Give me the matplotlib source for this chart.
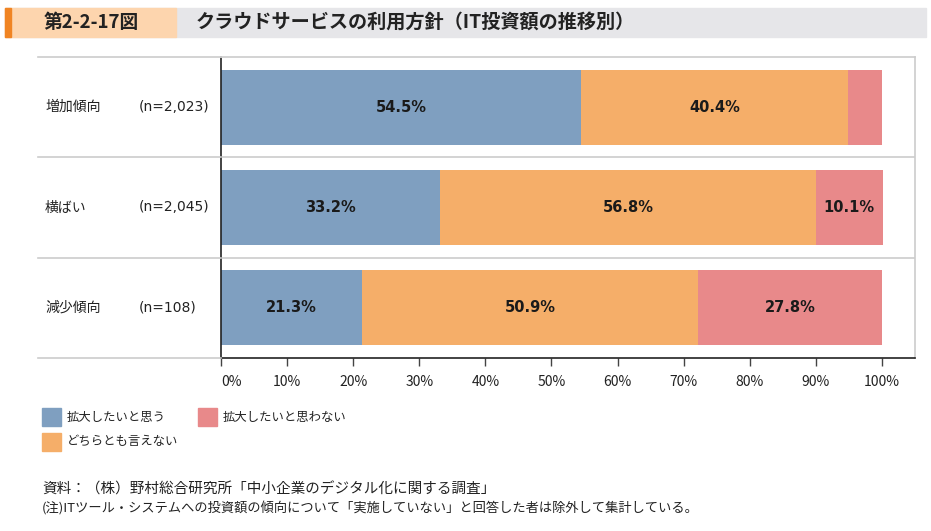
import matplotlib.pyplot as plt
from matplotlib.lines import Line2D
from matplotlib.patches import Rectangle
import numpy as np

plt.rcParams['font.family'] = ['Noto Sans CJK JP', 'DejaVu Sans']
LATIN = ['DejaVu Sans', 'Noto Sans CJK JP']

groups = ['増加傾向', '横ばい', '減少傾向']
counts = ['(n=2,023)', '(n=2,045)', '(n=108)']
series = ['拡大したいと思う', 'どちらとも言えない', '拡大したいと思わない']
expand = [54.5, 33.2, 21.3]
neutral = [40.4, 56.8, 50.9]
no_expand = [5.1, 10.1, 27.8]
show_label = [[True, True, False], [True, True, True], [True, True, True]]
colors = ['#7f9fc0', '#f5ae69', '#e8898a']
ticks = np.arange(0, 101, 10)

W, H = 931, 531
fig = plt.figure(figsize=(W / 100, H / 100), dpi=100)

def fx(px):
    return px / W

def fy(py):
    return 1 - py / H

# title banner
fig.patches.append(Rectangle((fx(5), fy(37)), fx(926) - fx(5), fy(8) - fy(37),
                             transform=fig.transFigure, color='#e6e6e9', zorder=0))
fig.patches.append(Rectangle((fx(5), fy(37)), fx(176) - fx(5), fy(8) - fy(37),
                             transform=fig.transFigure, color='#fdd5ae', zorder=0))
fig.patches.append(Rectangle((fx(5), fy(37)), fx(11) - fx(5), fy(8) - fy(37),
                             transform=fig.transFigure, color='#f08423', zorder=0))
fig.text(fx(44), fy(22.5), '第2-2-17図', fontsize=13.5, fontweight='bold',
         va='center', ha='left', color='#222222')
fig.text(fx(196), fy(22.5), 'クラウドサービスの利用方針（IT投資額の推移別）', fontsize=13.8,
         fontweight='bold', va='center', ha='left', color='#222222')

ax = fig.add_axes([fx(221), fy(358), fx(915) - fx(221), fy(57) - fy(358)])
ax.set_xlim(0, 105)
ax.set_ylim(3, 0)

y = np.arange(len(groups)) + 0.5
left = np.zeros(len(groups))
for k, vals in enumerate([expand, neutral, no_expand]):
    vals = np.array(vals)
    ax.barh(y, vals, left=left, height=0.75, color=colors[k], label=series[k], zorder=2)
    for i in range(len(groups)):
        if show_label[i][k]:
            ax.text(left[i] + vals[i] / 2, y[i], f'{vals[i]:.1f}%', ha='center', va='center',
                    fontsize=10.5, fontweight='bold', color='#1a1a1a', zorder=3, family=LATIN)
    left = left + vals

ax.set_xticks(ticks)
ax.set_xticklabels([f'{t}%' for t in ticks], fontsize=10, color='#222222')
ax.get_xticklabels()[0].set_ha('left')
ax.tick_params(axis='x', length=6, width=1, color='#444444', pad=6)
ax.set_yticks([])
for s in ['top', 'right']:
    ax.spines[s].set_color('#cccccc')
    ax.spines[s].set_linewidth(1.2)
ax.spines['left'].set_color('#222222')
ax.spines['bottom'].set_color('#222222')
ax.spines['left'].set_linewidth(1.2)
ax.spines['bottom'].set_linewidth(1.2)
for yy in [1, 2]:
    ax.axhline(yy, color='#cccccc', lw=1.2, zorder=1)

# left label area lines
for py in [57, 157.3, 257.7, 358]:
    fig.lines.append(Line2D([fx(38), fx(221)], [fy(py), fy(py)], transform=fig.transFigure,
                            color='#cccccc', lw=1.2))

for i in range(len(groups)):
    py = 57 + (i + 0.5) * 100.33
    fig.text(fx(45), fy(py), groups[i], fontsize=10, va='center', ha='left', color='#222222')
    fig.text(fx(139), fy(py), counts[i], fontsize=10, va='center', ha='left', color='#222222',
             family=LATIN)

# legend
legend_pos = [(42, 417), (42, 442), (198, 417)]
legend_order = [0, 1, 2]
for k, (lx, ly) in zip(legend_order, legend_pos):
    fig.patches.append(Rectangle((fx(lx), fy(ly + 9)), fx(19), fy(0) - fy(18),
                                 transform=fig.transFigure, color=colors[k]))
    fig.text(fx(lx + 25), fy(ly), series[k], fontsize=8.9, va='center', ha='left', color='#222222')

fig.text(fx(42), fy(489), '資料：（株）野村総合研究所「中小企業のデジタル化に関する調査」',
         fontsize=10.5, va='center', ha='left', color='#222222')
fig.text(fx(42), fy(509),
         '(注)ITツール・システムへの投資額の傾向について「実施していない」と回答した者は除外して集計している。',
         fontsize=9.5, va='center', ha='left', color='#222222')

fig.savefig('out.png', dpi=100)
